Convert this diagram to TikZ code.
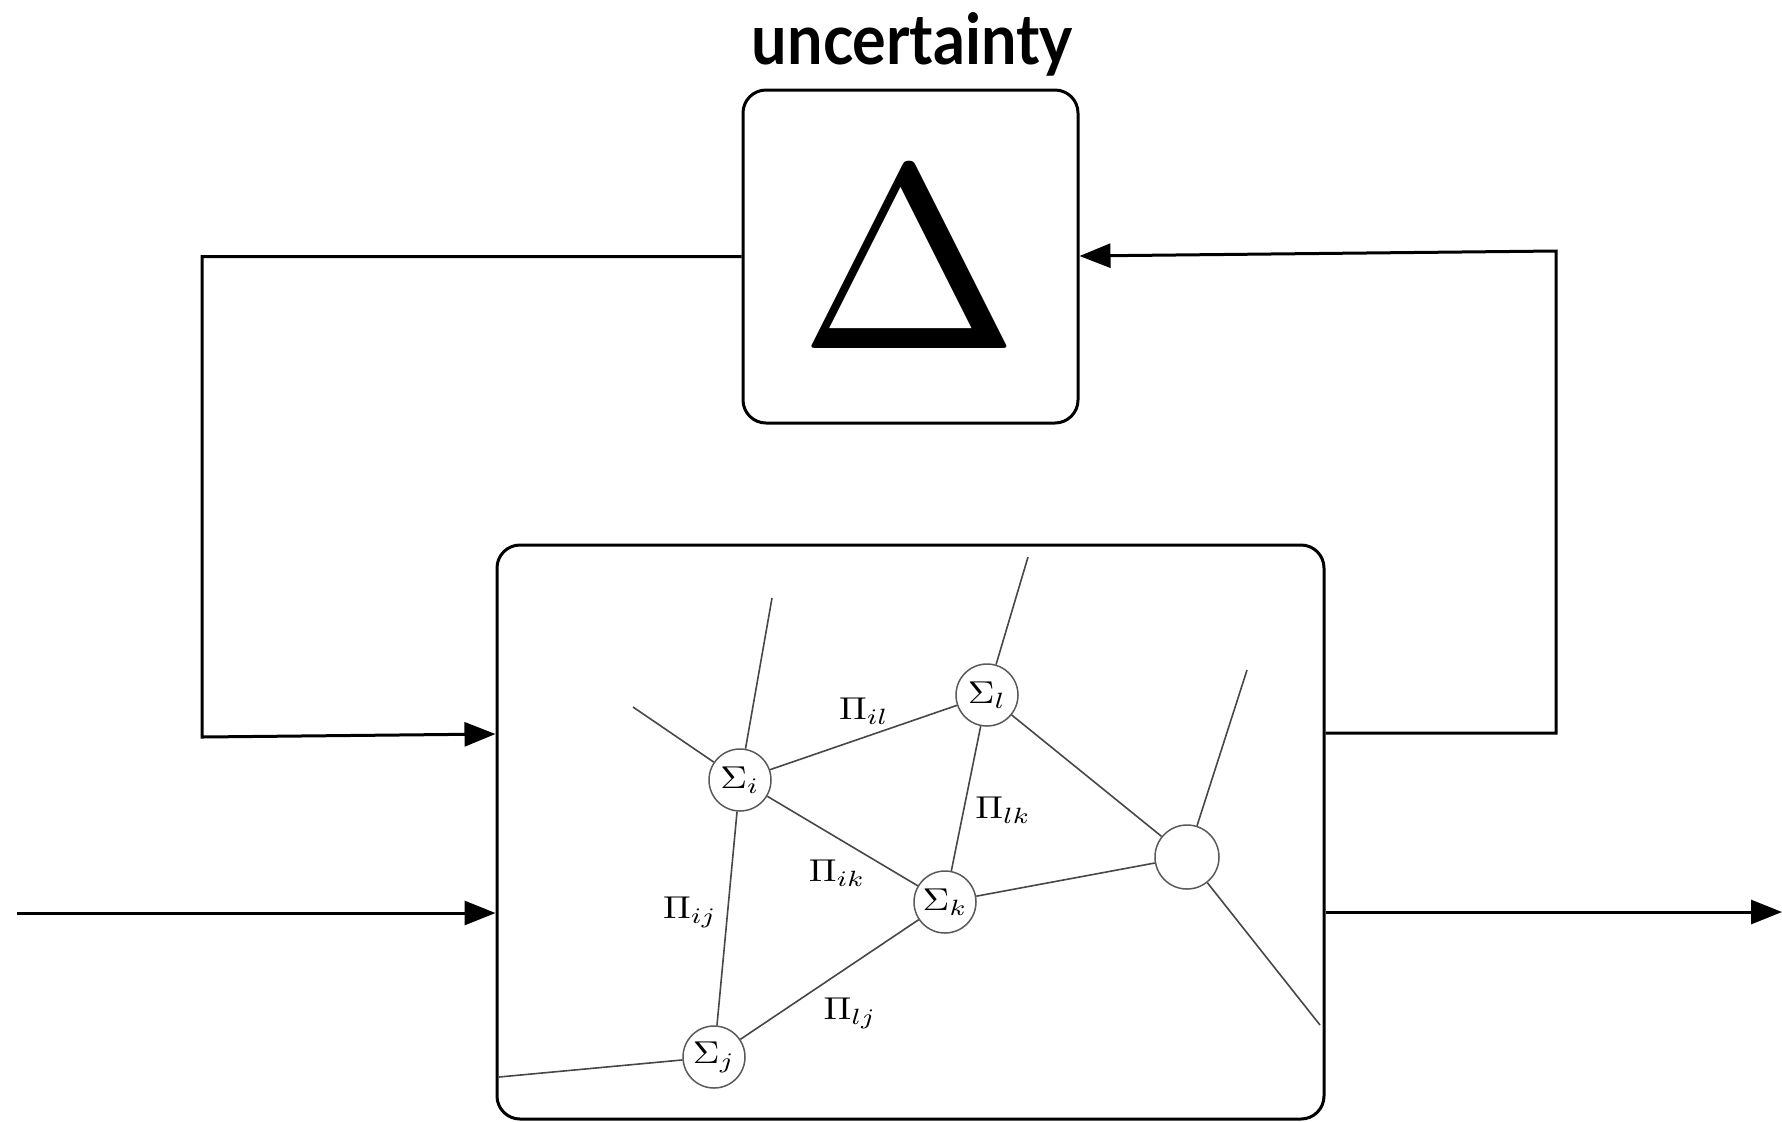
\documentclass[tikz,border=0pt]{standalone}
\usepackage{fontspec}
\newfontfamily\titlefont{Lato}
\usetikzlibrary{arrows.meta}
\newcommand\netlbl[1]{\scalebox{1.85}[1.58]{$#1$}}
\begin{document}
\begin{tikzpicture}[x=0.5pt,y=-0.5pt,
  blk/.style={draw=black, line width=1.5pt, rounded corners=11.5pt, inner sep=0pt},
  conn/.style={line width=1.5pt, -{Triangle[length=15.5pt,width=12pt]}},
  sys/.style={circle, draw=black!65, line width=0.75pt, minimum size=31pt, inner sep=0pt},
  gedge/.style={draw=black!72, line width=0.8pt},
  lab/.style={inner sep=0pt}]
\useasboundingbox (0,0) rectangle (1782,1121);
% title
\node[anchor=base, inner sep=0pt] (title) at (912.5,64) {\resizebox{160.5pt}{26pt}{\titlefont\bfseries uncertainty}};
% uncertainty block
\node[blk, minimum width=167.5pt, minimum height=166.5pt] (D) at (910.5,256.5) {};
\node[anchor=base, inner sep=0pt] (delta) at (910,348) {\resizebox{110pt}{89.3pt}{$\Delta$}};
% plant block
\node[blk, minimum width=413.5pt, minimum height=287pt] (P) at (910.5,832) {};
% coordinates
\coordinate (lfa) at (202,256.5);
\coordinate (lfb) at (202,737);
\coordinate (lfin) at (0,734);
\coordinate (rfout) at (0,733);
\coordinate (rfa) at (1556,733);
\coordinate (rfb) at (1556,251);
\coordinate (rfin) at (0,256);
\coordinate (in) at (17,913);
\coordinate (out) at (1782,912);
% feedback connectors
\draw[conn] (D.west) -- (lfa) -- (lfb) -- (P.west |- lfin);
\draw[conn] (P.east |- rfout) -- (rfa) -- (rfb) -- (D.east |- rfin);
\draw[conn] (in) -- (P.west |- in);
\draw[conn] (P.east |- out) -- (out);
% network
\node[sys] (Si) at (740,780) {\netlbl{\Sigma_i}};
\node[sys] (Sl) at (987,695) {\netlbl{\Sigma_l}};
\node[sys] (Sk) at (945,902) {\netlbl{\Sigma_k}};
\node[sys] (Sj) at (714,1057) {\netlbl{\Sigma_j}};
\node[sys, minimum size=32pt] (E) at (1187,857) {};
\coordinate (t1) at (772,598);
\coordinate (t2) at (633,707);
\coordinate (t3) at (1028,557);
\coordinate (t4) at (1247,670);
\coordinate (t5) at (1320,1025);
\coordinate (t6) at (499,1077);
\draw[gedge] (Si) -- (Sl);
\draw[gedge] (Si) -- (Sk);
\draw[gedge] (Si) -- (Sj);
\draw[gedge] (Sl) -- (Sk);
\draw[gedge] (Sk) -- (Sj);
\draw[gedge] (Sl) -- (E);
\draw[gedge] (Sk) -- (E);
\draw[gedge] (Si) -- (t1);
\draw[gedge] (Si) -- (t2);
\draw[gedge] (Sl) -- (t3);
\draw[gedge] (E) -- (t4);
\draw[gedge] (E) -- (t5);
\draw[gedge] (Sj) -- (t6);
% edge labels
\node[lab] (Lil) at (864,711) {\netlbl{\Pi_{il}}};
\node[lab] (Llk) at (1003,810) {\netlbl{\Pi_{lk}}};
\node[lab] (Lik) at (837,873) {\netlbl{\Pi_{ik}}};
\node[lab] (Lij) at (690,912) {\netlbl{\Pi_{ij}}};
\node[lab] (Llj) at (850,1013) {\netlbl{\Pi_{lj}}};
\end{tikzpicture}
\end{document}
